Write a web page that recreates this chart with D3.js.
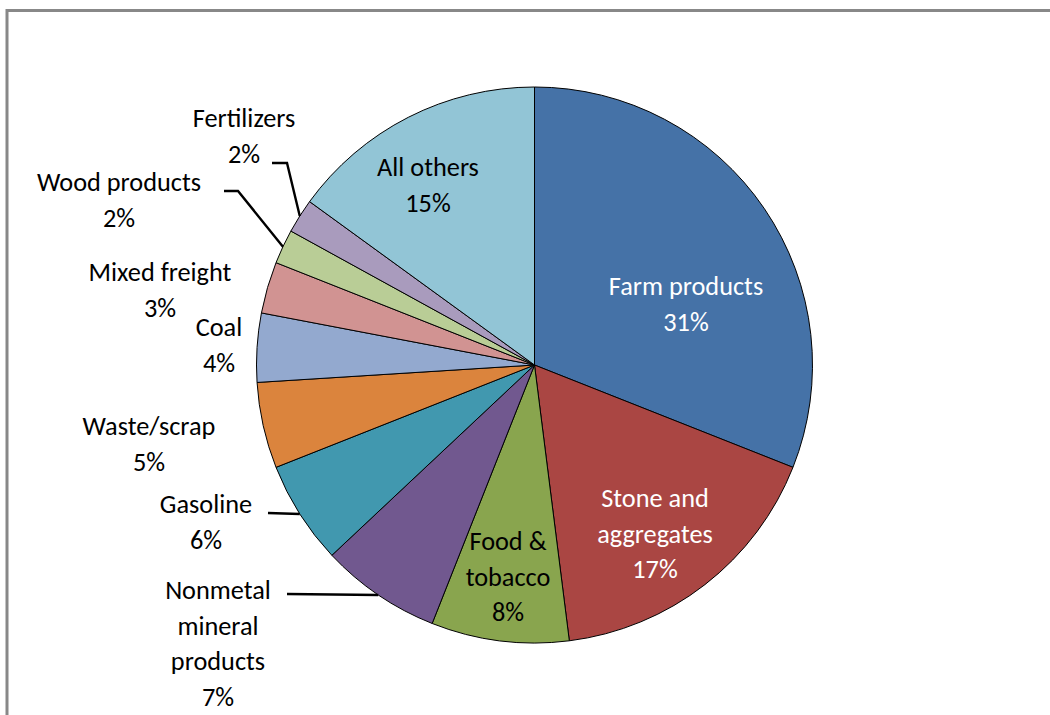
<!DOCTYPE html>
<meta charset="utf-8">
<style>
body { margin: 0; background: #fff; }
svg { display: block; }
.lbl { font-family: Calibri, Carlito, Lato, sans-serif; font-size: 26.3px; text-anchor: middle; }
.slice { stroke: #000; stroke-width: 1; }
.leader { fill: none; stroke: #000; stroke-width: 2.4; }
</style>
<body>
<svg width="1050" height="715"></svg>
</body>
<script src="https://d3js.org/d3.v7.min.js"></script>
<script>

// data
var categories = ["Farm products", "Stone and aggregates", "Food & tobacco", "Nonmetal mineral products",
  "Gasoline", "Waste/scrap", "Coal", "Mixed freight", "Wood products", "Fertilizers", "All others"];
var shares = [31, 17, 8, 7, 6, 5, 4, 3, 2, 2, 15];
var colors = ["#4572A7", "#AA4643", "#89A54E", "#71588F", "#4198AF", "#DB843D",
  "#93A9CF", "#D19392", "#B9CD96", "#A99BBD", "#92C5D6"];

// label layout: text lines, centre x, first baseline, leader start (if any)
var labelLayout = {
  "Farm products":             {lines: ["Farm products"], x: 686, y: 295, fill: "#fff"},
  "Stone and aggregates":      {lines: ["Stone and", "aggregates"], x: 655, y: 507, fill: "#fff"},
  "Food & tobacco":            {lines: ["Food &", "tobacco"], x: 508, y: 550},
  "Nonmetal mineral products": {lines: ["Nonmetal", "mineral", "products"], x: 218, y: 599, leader: [287, 594]},
  "Gasoline":                  {lines: ["Gasoline"], x: 206, y: 513, leader: [268, 513]},
  "Waste/scrap":               {lines: ["Waste/scrap"], x: 149, y: 435},
  "Coal":                      {lines: ["Coal"], x: 219, y: 336},
  "Mixed freight":             {lines: ["Mixed freight"], x: 160, y: 281},
  "Wood products":             {lines: ["Wood products"], x: 119, y: 191, leader: [224, 191], bend: 238},
  "Fertilizers":               {lines: ["Fertilizers"], x: 244, y: 127, leader: [272, 163], bend: 287},
  "All others":                {lines: ["All others"], x: 428, y: 176}
};

var svg = d3.select("svg");
var cx = 534.5, cy = 365, radius = 278, lineH = 35.5;

// frame
svg.append("rect")
    .attr("x", 7).attr("y", 10.5)
    .attr("width", 1100).attr("height", 800)
    .attr("fill", "none")
    .attr("stroke", "#888")
    .attr("stroke-width", 3);

var data = categories.map(function(c, i) { return {name: c, value: shares[i], color: colors[i]}; });

var pie = d3.pie().sort(null).value(function(d) { return d.value; });
var arc = d3.arc().innerRadius(0).outerRadius(radius);

var g = svg.append("g").attr("transform", "translate(" + cx + "," + cy + ")");
var arcs = pie(data);

g.selectAll(".slice")
  .data(arcs)
  .enter().append("path")
    .attr("class", "slice")
    .attr("d", arc)
    .attr("fill", function(d) { return d.data.color; });

// leaders
arcs.forEach(function(a) {
  var L = labelLayout[a.data.name];
  if (!L.leader) return;
  var mid = (a.startAngle + a.endAngle) / 2;
  var ex = cx + radius * Math.sin(mid), ey = cy - radius * Math.cos(mid);
  var pts = [L.leader];
  if (L.bend) pts.push([L.bend, L.leader[1]]);
  pts.push([ex, ey]);
  svg.append("path").attr("class", "leader").attr("d", d3.line()(pts));
});

// labels
arcs.forEach(function(a) {
  var L = labelLayout[a.data.name];
  var lines = L.lines.concat([a.data.value + "%"]);
  var t = svg.append("text")
      .attr("class", "lbl")
      .attr("fill", L.fill || "#000");
  lines.forEach(function(s, i) {
    t.append("tspan").attr("x", L.x).attr("y", L.y + i * lineH).text(s);
  });
});

</script>
